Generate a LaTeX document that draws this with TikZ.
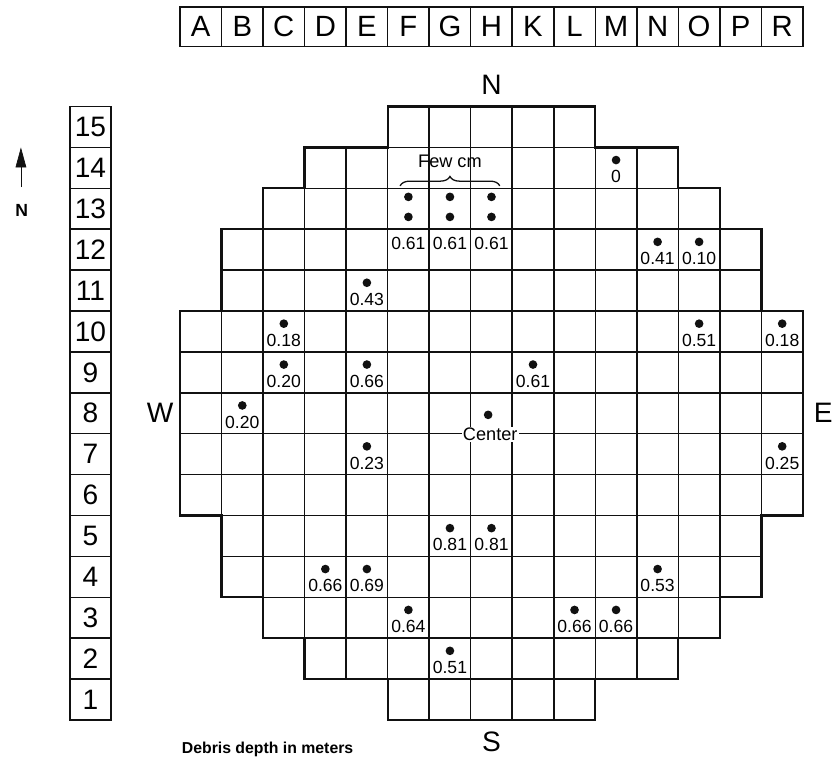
\documentclass[tikz,border=0pt]{standalone}
\usepackage{fontspec}
\setmainfont{Liberation Sans}
\usetikzlibrary{arrows.meta,positioning,decorations.pathreplacing}
\definecolor{Ink}{HTML}{111111}
\tikzset{
  cell/.style={draw=Ink, line width=1.3pt},
  rim/.style={draw=Ink, line width=1.9pt, line join=miter},
  letterbox/.style={draw=Ink, line width=1.3pt, minimum width=1.246cm, minimum height=1.2cm, inner sep=0pt, font=\fontsize{25}{25}\selectfont},
  rowbox/.style={draw=Ink, line width=1.3pt, minimum width=1.23cm, minimum height=1.227cm, inner sep=0pt, font=\fontsize{24}{24}\selectfont},
  spot/.style={circle, fill=Ink, inner sep=0pt, minimum size=2.6mm},
  val/.style={inner sep=0.5pt, font=\fontsize{15}{15}\selectfont},
  dirlabel/.style={inner sep=0pt, font=\fontsize{24}{24}\selectfont},
  note/.style={inner sep=1pt, font=\fontsize{15.5}{15.5}\selectfont},
  northarr/.style={-{Triangle[length=6mm,width=3.2mm]}, line width=0.6pt, draw=Ink}
}
\begin{document}
\begin{tikzpicture}[x=1.246cm,y=1.227cm]
\useasboundingbox (-4.334,-1.1) rectangle (15.868,17.604);
% grid, one row at a time
\foreach \r/\a/\b in {15/6/10,14/4/12,13/3/13,12/2/14,11/2/14,10/1/15,9/1/15,8/1/15,7/1/15,6/1/15,5/2/14,4/2/14,3/3/13,2/4/12,1/6/10}{
  \foreach \c in {\a,...,\b}{\draw[cell] (\c-1,\r-1) rectangle (\c,\r);}
}
\draw[rim] (5,15) -- (10,15) -- (10,14) -- (12,14) -- (12,13) -- (13,13) -- (13,12) -- (14,12) -- (14,10) -- (15,10) -- (15,5) -- (14,5) -- (14,3) -- (13,3) -- (13,2) -- (12,2) -- (12,1) -- (10,1) -- (10,0) -- (5,0) -- (5,1) -- (3,1) -- (3,2) -- (2,2) -- (2,3) -- (1,3) -- (1,5) -- (0,5) -- (0,10) -- (1,10) -- (1,12) -- (2,12) -- (2,13) -- (3,13) -- (3,14) -- (5,14) -- cycle;
% column and row keys
\foreach \i/\ch in {1/A,2/B,3/C,4/D,5/E,6/F,7/G,8/H,9/K,10/L,11/M,12/N,13/O,14/P,15/R}{\node[letterbox] (col\ch) at (\i-0.5,16.95) {\ch};}
\foreach \r in {1,...,15}{\node[rowbox] (row\r) at (-2.155,\r-0.5) {\r};}
% compass
\node[dirlabel] (north) at (7.5,15.53) {N};
\node[dirlabel] (south) at (7.5,-0.53) {S};
\node[dirlabel] (west) at (-0.48,7.5) {W};
\node[dirlabel] (east) at (15.49,7.5) {E};
\coordinate (nbot) at (-3.83,13.03);
\coordinate (ntop) at (-3.83,14.0);
\draw[northarr] (nbot) -- (ntop);
\node[inner sep=0pt, font=\bfseries\fontsize{15}{15}\selectfont] (nmark) at (-3.81,12.47) {N};
% measured depths
\foreach \c/\r/\lab in {11/14/0,12/12/0.41,13/12/0.10,5/11/0.43,3/10/0.18,13/10/0.51,15/10/0.18,3/9/0.20,5/9/0.66,9/9/0.61,2/8/0.20,5/7/0.23,15/7/0.25,7/5/0.81,8/5/0.81,4/4/0.66,5/4/0.69,12/4/0.53,6/3/0.64,10/3/0.66,11/3/0.66,7/2/0.51}{
  \node[spot] (d\c-\r) at (\c-0.5,\r-0.31) {};
  \node[val] (v\c-\r) at (\c-0.5,\r-0.72) {\lab};
}
\foreach \c in {6,7,8}{
  \node[spot] (a\c) at (\c-0.5,12.79) {};
  \node[spot] (b\c) at (\c-0.5,12.30) {};
  \node[val] (v\c-12) at (\c-0.5,11.66) {0.61};
}
\coordinate (brl) at (5.3,13.06);
\coordinate (brr) at (7.7,13.06);
\draw[decorate, decoration={brace,amplitude=8pt}, line width=1.1pt, draw=Ink] (brl) -- (brr);
\node[note] (fewcm) at (6.5,13.66) {Few cm};
\node[spot] (cdot) at (7.42,7.46) {};
\node[note, fill=white] (center) at (7.47,6.98) {Center};
\node[anchor=west, inner sep=0pt, font=\bfseries\fontsize{13.5}{13.5}\selectfont] (legend) at (0.04,-0.71) {Debris depth in meters};
\end{tikzpicture}
\end{document}
